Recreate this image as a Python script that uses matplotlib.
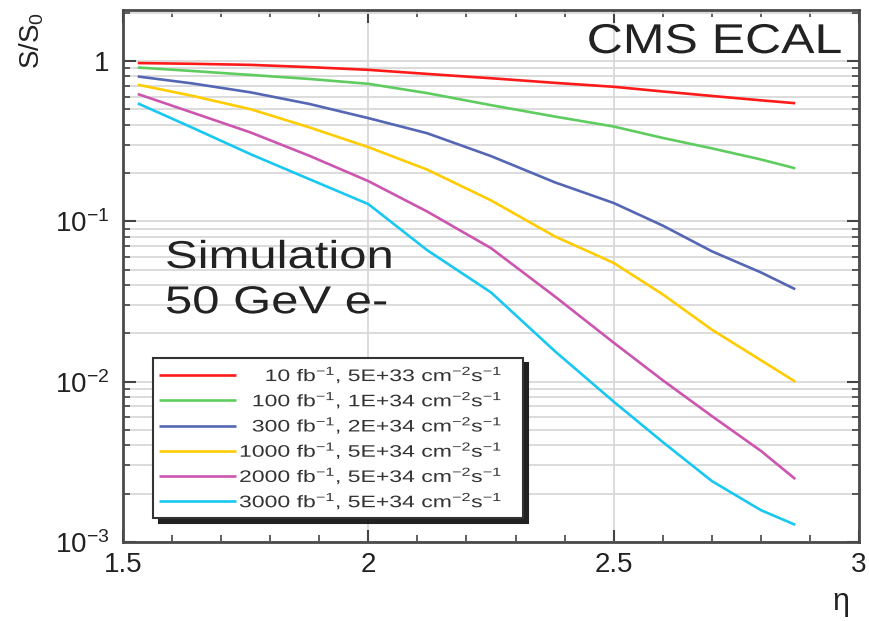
import numpy as np
import matplotlib
matplotlib.use('Agg')
import matplotlib.pyplot as plt
from matplotlib.ticker import FixedLocator, FixedFormatter, MultipleLocator
from matplotlib.patheffects import AbstractPathEffect
from matplotlib.transforms import Affine2D

plt.rcParams['font.family'] = ['Liberation Sans', 'DejaVu Sans']
plt.rcParams['mathtext.fontset'] = 'custom'
plt.rcParams['mathtext.rm'] = 'Liberation Sans'
plt.rcParams['mathtext.it'] = 'Liberation Sans:italic'

# eta points
eta = [1.53, 1.64, 1.76, 1.88, 2.0, 2.12, 2.25, 2.38, 2.5, 2.6, 2.7, 2.8, 2.87]

s_10 = [0.97, 0.96, 0.945, 0.915, 0.88, 0.83, 0.78, 0.73, 0.69, 0.645, 0.605, 0.568, 0.545]
s_100 = [0.91, 0.866, 0.818, 0.772, 0.72, 0.63, 0.53, 0.45, 0.39, 0.331, 0.285, 0.243, 0.214]
s_300 = [0.80, 0.725, 0.637, 0.539, 0.44, 0.354, 0.255, 0.175, 0.13, 0.094, 0.065, 0.048, 0.0377]
s_1000 = [0.711, 0.607, 0.50, 0.385, 0.29, 0.21, 0.135, 0.0805, 0.055, 0.035, 0.0211, 0.0136, 0.0100]
s_2000 = [0.622, 0.478, 0.358, 0.256, 0.178, 0.115, 0.068, 0.034, 0.0175, 0.0102, 0.0061, 0.0037, 0.00247]
s_3000 = [0.544, 0.385, 0.262, 0.183, 0.128, 0.066, 0.036, 0.0155, 0.0075, 0.0042, 0.0024, 0.00158, 0.00128]

fs = '\u2007'  # figure space keeps the legend labels right aligned
labels = [
    fs + fs + '10 fb$^{-1}$, 5E+33 cm$^{-2}$s$^{-1}$',
    fs + '100 fb$^{-1}$, 1E+34 cm$^{-2}$s$^{-1}$',
    fs + '300 fb$^{-1}$, 2E+34 cm$^{-2}$s$^{-1}$',
    '1000 fb$^{-1}$, 5E+34 cm$^{-2}$s$^{-1}$',
    '2000 fb$^{-1}$, 5E+34 cm$^{-2}$s$^{-1}$',
    '3000 fb$^{-1}$, 5E+34 cm$^{-2}$s$^{-1}$',
]
colors = ['#ff1a1a', '#5fcc5f', '#5566b4', '#ffcc00', '#cc55b0', '#18c8f0']

ytick_vals = [1e-3, 1e-2, 1e-1, 1]
ytick_labels = ['$10^{-3}$', '$10^{-2}$', '$10^{-1}$', '1']
xtick_vals = [1.5, 2, 2.5, 3]
xtick_labels = ['1.5', '2', '2.5', '3']


class HStretch(AbstractPathEffect):
    """widen glyphs horizontally, the reference text is stretched"""
    def __init__(self, sx):
        super().__init__()
        self.sx = sx

    def draw_path(self, renderer, gc, tpath, affine, rgbFace=None):
        renderer.draw_path(gc, tpath, Affine2D().scale(self.sx, 1) + affine, rgbFace)


fig = plt.figure(figsize=(8.7, 6.21), dpi=100)
ax = fig.add_axes([0.1414, 0.1272, 0.846, 0.8568])

series = [s_10, s_100, s_300, s_1000, s_2000, s_3000]
for s, c, lab in zip(series, colors, labels):
    ax.plot(eta, s, color=c, lw=1.9, label=lab, solid_capstyle='butt')

ax.set_yscale('log')
ax.set_xlim(1.5, 3)
ax.set_ylim(1e-3, 2.08)

# ticks and grid
minor_y = [m * 10.0 ** e for e in range(-3, 1) for m in range(2, 10)]
ax.yaxis.set_major_locator(FixedLocator(ytick_vals))
ax.yaxis.set_major_formatter(FixedFormatter(ytick_labels))
ax.yaxis.set_minor_locator(FixedLocator(minor_y))
ax.yaxis.set_minor_formatter(FixedFormatter([''] * len(minor_y)))
ax.xaxis.set_major_locator(FixedLocator(xtick_vals))
ax.xaxis.set_major_formatter(FixedFormatter(xtick_labels))
ax.xaxis.set_minor_locator(MultipleLocator(0.1))

ax.tick_params(which='both', direction='in', top=True, right=True, color='#444444')
ax.tick_params(which='major', length=9, width=1.5, labelsize=20, colors='#444444', labelcolor='#222222')
ax.tick_params(which='minor', length=5, width=1.2, colors='#444444')
ax.tick_params(axis='x', which='major', pad=7)
ax.tick_params(axis='y', which='major', pad=10)

ax.grid(True, which='both', axis='y', color='#d9d9d9', lw=1.3)
ax.grid(True, which='major', axis='x', color='#d9d9d9', lw=1.3)
ax.set_axisbelow(True)
for sp in ax.spines.values():
    sp.set_color('#4a4a4a')
    sp.set_linewidth(2)

# labels
fig.text(0.036, 0.935, '$\\mathregular{S/S_0}$', rotation=90, fontsize=20,
         ha='center', va='center', color='#222222')
fig.text(0.966, 0.030, '\u03b7', fontsize=22, ha='center', va='center', color='#222222')

ax.text(0.630, 0.919, 'CMS ECAL', transform=ax.transAxes, fontsize=30,
        ha='left', va='baseline', color='#222222', path_effects=[HStretch(1.2)])
ax.text(0.057, 0.515, 'Simulation', transform=ax.transAxes, fontsize=28,
        ha='left', va='baseline', color='#222222', path_effects=[HStretch(1.26)])
ax.text(0.057, 0.430, '50 GeV e-', transform=ax.transAxes, fontsize=28,
        ha='left', va='baseline', color='#222222', path_effects=[HStretch(1.26)])

leg = ax.legend(loc='upper left', bbox_to_anchor=(0.041, 0.06, 0.502, 0.286),
                mode='expand', fontsize=12,
                handlelength=4.6, handletextpad=0.2, labelspacing=0.2,
                borderpad=0.35, borderaxespad=0, fancybox=False,
                shadow={'ox': 4, 'oy': -4, 'color': '#222222', 'alpha': 1},
                framealpha=1, edgecolor='#333333')
leg.get_frame().set_linewidth(1.5)
for t in leg.get_texts():
    t.set_color('#333333')
    t.set_path_effects([HStretch(1.38)])

fig.savefig('out.png', dpi=100)
